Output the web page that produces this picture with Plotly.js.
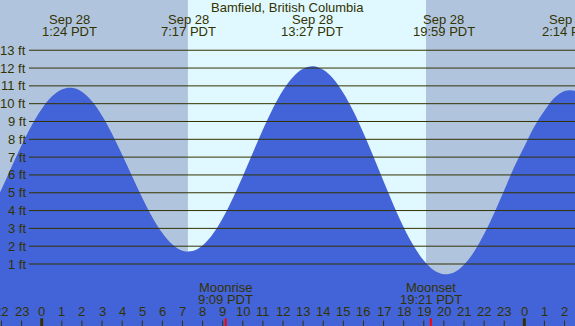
<!DOCTYPE html>
<html>
<head>
<meta charset="utf-8">
<script src="https://cdn.plot.ly/plotly-3.0.1.min.js"></script>
<style>html,body{margin:0;padding:0;background:#b0c4de;}#chart{width:575px;height:326px;}</style>
</head>
<body>
<div id="chart"></div>
<script>
// Data (hours from midnight Sep 28, PDT), heights every half hour
const title = "Bamfield, British Columbia";
const tideHours = [-3,-2.5,-2,-1.5,-1,-0.5,0,0.5,1,1.5,2,2.5,3,3.5,4,4.5,5,5.5,6,6.5,7,7.5,8,8.5,9,9.5,10,10.5,11,11.5,12,12.5,13,13.5,14,14.5,15,15.5,16,16.5,17,17.5,18,18.5,19,19.5,20,20.5,21,21.5,22,22.5,23,23.5,24,24.5,25,25.5,26,26.5,27];
const tideFeet = [2.92,4.00,5.20,6.45,7.67,8.78,9.70,10.40,10.80,10.89,10.67,10.13,9.32,8.30,7.13,5.91,4.72,3.63,2.74,2.10,1.75,1.73,2.04,2.67,3.57,4.68,5.93,7.25,8.55,9.74,10.75,11.50,11.96,12.10,11.90,11.40,10.60,9.57,8.35,7.02,5.64,4.30,3.06,2.01,1.19,0.65,0.43,0.53,0.96,1.69,2.68,3.85,5.14,6.46,7.60,8.72,9.60,10.33,10.71,10.73,10.40];
const extremeHours = [1.4, 7.283, 13.45, 19.983, 26.233];
const extremeDates = ["Sep 28","Sep 28","Sep 28","Sep 28","Sep 29"];
const extremeTimes = ["1:24 PDT","7:17 PDT","13:27 PDT","19:59 PDT","2:14 PDT"];
const sunHours = [7.27, 19.11];
const moonHours = [9.15, 19.35];
const moonNames = ["Moonrise","Moonset"];
const moonTimes = ["9:09 PDT","19:21 PDT"];
const feetLevels = [1,2,3,4,5,6,7,8,9,10,11,12,13];
const hourTicks = [-2,-1,0,1,2,3,4,5,6,7,8,9,10,11,12,13,14,15,16,17,18,19,20,21,22,23,24,25,26];
const hourLabels = ["22","23","0","1","2","3","4","5","6","7","8","9","10","11","12","13","14","15","16","17","18","19","20","21","22","23","0","1","2"];

const NIGHT = "#b0c4de", DAY = "#e0f8ff", WATER = "#4363d8", INK = "#333300";
const FONT = "Liberation Sans, Arial, sans-serif";

const traces = [
  {x: tideHours, y: tideHours.map(() => -10), mode: "lines", line: {width: 0, color: WATER}, hoverinfo: "skip", showlegend: false},
  {x: tideHours, y: tideFeet, mode: "lines", line: {width: 0, color: WATER, shape: "spline", smoothing: 1}, fill: "tonexty", fillcolor: WATER, hoverinfo: "skip", showlegend: false}
];

const shapes = [];
shapes.push({type: "rect", xref: "x", yref: "paper", x0: sunHours[0], x1: sunHours[1], y0: 0, y1: 1, fillcolor: DAY, line: {width: 0}, layer: "below"});
feetLevels.forEach(f => shapes.push({type: "line", xref: "paper", yref: "y", x0: 29/575, x1: 1, y0: f, y1: f, line: {color: INK, width: 1}, layer: "above"}));
hourTicks.forEach((h, i) => {
  const midnight = hourLabels[i] === "0";
  shapes.push({type: "line", xref: "x", yref: "paper", x0: h, x1: h, y0: 0, y1: midnight ? 0.0236 : 0.0163, line: {color: INK, width: midnight ? 3 : 1}, layer: "above"});
});
moonHours.forEach(h => shapes.push({type: "line", xref: "x", yref: "paper", x0: h, x1: h, y0: 0, y1: 0.0236, line: {color: "#ff0000", width: 2}, layer: "above"}));

const annotations = [];
const txt = (x, xref, y, yref, text, xanchor) => ({x, y, xref, yref, text, showarrow: false, xanchor: xanchor || "center", yanchor: "middle", font: {family: FONT, size: 13, color: INK}, borderpad: 0});
annotations.push(txt(0.5, "paper", 0.9776, "paper", title));
extremeHours.forEach((h, i) => {
  annotations.push(txt(h, "x", 0.9387, "paper", extremeDates[i]));
  annotations.push(txt(h, "x", 0.9028, "paper", extremeTimes[i]));
});
feetLevels.forEach(f => annotations.push(txt(27/575, "paper", f, "y", f + " ft", "right")));
hourTicks.forEach((h, i) => annotations.push(txt(h, "x", 0.0439, "paper", hourLabels[i])));
moonHours.forEach((h, i) => {
  annotations.push(txt(h, "x", 0.1187, "paper", moonNames[i]));
  annotations.push(txt(h, "x", 0.0798, "paper", moonTimes[i]));
});

const layout = {
  width: 575, height: 326,
  margin: {l: 0, r: 0, t: 0, b: 0, pad: 0},
  paper_bgcolor: NIGHT, plot_bgcolor: NIGHT,
  showlegend: false,
  xaxis: {range: [-2.074, 26.52], showgrid: false, zeroline: false, showticklabels: false, ticks: "", fixedrange: true},
  yaxis: {range: [-2.48, 15.82], showgrid: false, zeroline: false, showticklabels: false, ticks: "", fixedrange: true},
  shapes, annotations
};
Plotly.newPlot("chart", traces, layout, {staticPlot: true, displayModeBar: false});
</script>
</body>
</html>
